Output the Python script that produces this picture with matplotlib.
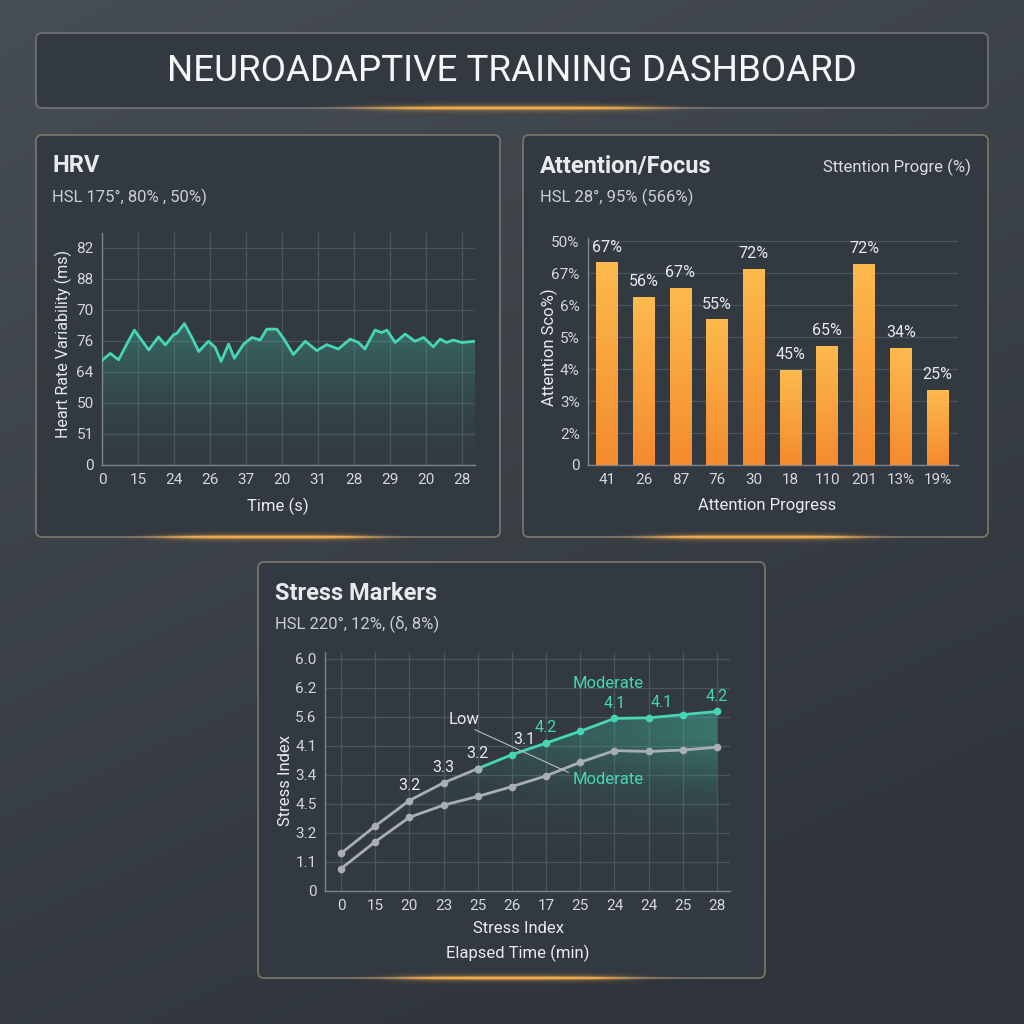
import numpy as np
import matplotlib
matplotlib.use('Agg')
import matplotlib.pyplot as plt
from matplotlib.patches import FancyBboxPatch
from matplotlib.colors import to_rgb

plt.rcParams['font.family'] = ['Roboto', 'DejaVu Sans']

# ---- data ----
# HRV trace (x in tick slots, y in tick slots)
hrv_x = [0, 0.23, 0.46, 0.69, 0.90, 1.11, 1.30, 1.57, 1.76, 1.99, 2.08, 2.29, 2.50, 2.69,
         2.96, 3.15, 3.31, 3.52, 3.68, 3.94, 4.17, 4.40, 4.58, 4.86, 5.06, 5.32, 5.65,
         5.97, 6.25, 6.57, 6.90, 7.13, 7.31, 7.59, 7.78, 7.92, 8.15, 8.43, 8.70, 8.94,
         9.21, 9.40, 9.58, 9.77, 10.0, 10.37]
hrv_y = [3.37, 3.60, 3.39, 3.90, 4.35, 4.01, 3.71, 4.13, 3.87, 4.20, 4.24, 4.56, 4.11, 3.66,
         3.99, 3.79, 3.34, 3.90, 3.44, 3.90, 4.11, 4.03, 4.38, 4.38, 4.06, 3.56, 3.99,
         3.69, 3.88, 3.74, 4.06, 3.95, 3.74, 4.35, 4.27, 4.35, 3.95, 4.22, 3.99, 4.11,
         3.81, 4.06, 3.95, 4.03, 3.95, 3.99]
hrv_xticks = ['0', '15', '24', '26', '37', '20', '31', '28', '29', '20', '28']
hrv_yticks = ['0', '51', '50', '64', '76', '70', '88', '82']

# Attention bars
att_cats = ['41', '26', '87', '76', '30', '18', '110', '201', '13%', '19%']
att_vals = [6.32, 5.24, 5.53, 4.54, 6.13, 2.97, 3.70, 6.27, 3.65, 2.34]
att_labels = ['67%', '56%', '67%', '55%', '72%', '45%', '65%', '72%', '34%', '25%']
att_yticks = ['0', '2%', '3%', '4%', '5%', '6%', '67%', '50%']

# Stress markers
stress_xticks = ['0', '15', '20', '23', '25', '26', '17', '25', '24', '24', '25', '28']
stress_upper = [1.30, 2.24, 3.12, 3.73, 4.22, 4.70, 5.10, 5.51, 5.95, 5.97, 6.08, 6.19]
stress_lower = [0.77, 1.70, 2.54, 2.96, 3.26, 3.60, 3.97, 4.44, 4.84, 4.81, 4.86, 4.96]
stress_yticks = ['0', '1.1', '3.2', '4.5', '3.4', '4.1', '5.6', '6.2', '6.0']
note_idx = [2, 3, 4, 5, 6, 8, 9, 11]
note_txt = ['3.2', '3.3', '3.2', '3.1', '4.2', '4.1', '4.1', '4.2']

TEAL = '#46d6b4'
GRAY = '#a9aeb3'
TXT = '#e8ebee'
TICK = '#d3d7db'
GRID = '#4c545d'

fig = plt.figure(figsize=(10.24, 10.24), dpi=100)

# background axes in pixel coords
bg = fig.add_axes([0, 0, 1, 1], zorder=0)
bg.set_xlim(0, 1024)
bg.set_ylim(1024, 0)
bg.axis('off')
yy, xx = np.mgrid[0:1:256j, 0:1:256j]
top = np.array(to_rgb('#474d54'))
bot = np.array(to_rgb('#2f343b'))
t = np.clip(0.75 * yy + 0.35 * xx, 0, 1)[..., None]
bg.imshow(top * (1 - t) + bot * t, extent=[0, 1024, 1024, 0], aspect='auto', zorder=0)


def panel(x0, y0, x1, y1, edge='#6c7075'):
    p = FancyBboxPatch((x0, y0), x1 - x0, y1 - y0, boxstyle='round,pad=0,rounding_size=6',
                       facecolor='#323941', edgecolor=edge, lw=1.3, zorder=1)
    bg.add_patch(p)


def glow(cx, cy, hw):
    gx = np.linspace(-1, 1, 300)
    gy = np.linspace(-1, 1, 40)
    X, Y = np.meshgrid(gx, gy)
    a = np.exp(-(X * 1.8) ** 4) * (np.exp(-(Y * 9) ** 2) + 0.35 * np.exp(-(Y * 3) ** 2))
    img = np.zeros((40, 300, 4))
    img[..., :3] = to_rgb('#f6ad4c')
    img[..., 3] = np.clip(a, 0, 1)
    bg.imshow(img, extent=[cx - hw, cx + hw, cy + 12, cy - 12], aspect='auto', zorder=3)


panel(36, 33, 988, 108)
panel(36, 135, 500, 537, edge='#77736a')
panel(523, 135, 988, 537, edge='#77736a')
panel(258, 562, 765, 978, edge='#77736a')
glow(512, 108, 260)
glow(268, 537, 190)
glow(755, 537, 190)
glow(512, 978, 210)
bg.set_xlim(0, 1024)
bg.set_ylim(1024, 0)

bg.text(512, 71, 'NEUROADAPTIVE TRAINING DASHBOARD', ha='center', va='center',
        fontsize=26.5, color='#f4f6f8', zorder=5)

# panel titles
bg.text(52, 166, 'HRV', fontsize=17, fontweight='bold', color=TXT, va='center', zorder=5)
bg.text(52, 197, 'HSL 175°, 80% , 50%)', fontsize=12, color='#c9ced3', va='center', zorder=5)
bg.text(540, 166, 'Attention/Focus', fontsize=17, fontweight='bold', color=TXT, va='center', zorder=5)
bg.text(540, 197, 'HSL 28°, 95% (566%)', fontsize=12, color='#c9ced3', va='center', zorder=5)
bg.text(971, 167, 'Sttention Progre (%)', fontsize=12, color='#d9dde1', va='center', ha='right', zorder=5)
bg.text(275, 593, 'Stress Markers', fontsize=17, fontweight='bold', color=TXT, va='center', zorder=5)
bg.text(275, 624, 'HSL 220°, 12%, (δ, 8%)', fontsize=12, color='#c9ced3', va='center', zorder=5)


def make_ax(x0, y0, x1, y1):
    ax = fig.add_axes([x0 / 1024, 1 - y1 / 1024, (x1 - x0) / 1024, (y1 - y0) / 1024], zorder=2)
    ax.set_facecolor('none')
    for s in ['top', 'right']:
        ax.spines[s].set_visible(False)
    for s in ['left', 'bottom']:
        ax.spines[s].set_color('#7d848b')
        ax.spines[s].set_linewidth(1.0)
    ax.tick_params(length=0, colors=TICK, labelsize=11, pad=6)
    return ax


def grad_fill(ax, x, y1, y0, alpha_img, extent, color):
    poly = ax.fill_between(x, y1, y0, facecolor='none', edgecolor='none')
    img = np.zeros(alpha_img.shape + (4,))
    img[..., :3] = to_rgb(color)
    img[..., 3] = alpha_img
    im = ax.imshow(img, extent=extent, origin='lower', aspect='auto', zorder=1)
    im.set_clip_path(poly.get_paths()[0], transform=ax.transData)


# ---- HRV ----
ax1 = make_ax(102, 233, 475, 465)
ny = 200
ramp = np.linspace(0.0, 1.0, ny) ** 1.8
grad_fill(ax1, hrv_x, hrv_y, 0, np.tile((0.02 + 0.42 * ramp)[:, None], (1, 10)),
          [0, 10.37, 0, 4.6], '#3fae98')
ax1.plot(hrv_x, hrv_y, color=TEAL, lw=2.0, zorder=3, solid_capstyle='round')
ax1.set_xticks(range(len(hrv_xticks)))
ax1.set_xticklabels(hrv_xticks)
ax1.set_yticks(range(len(hrv_yticks)))
ax1.set_yticklabels(hrv_yticks)
ax1.grid(True, color=GRID, lw=0.9)
ax1.set_axisbelow(True)
ax1.set_xlim(0, 10.37)
ax1.set_ylim(0, 7.48)
ax1.set_xlabel('Time (s)', color=TXT, fontsize=12)
ax1.set_ylabel('Heart Rate Variability (ms)', color=TXT, fontsize=11.5)
ax1.xaxis.set_label_coords(0.472, -0.142)
ax1.yaxis.set_label_coords(-0.08, 0.52)

# ---- Attention ----
ax2 = make_ax(588, 238, 958, 465)
pos = np.arange(len(att_cats))
w = 0.59
bar_cols = np.linspace(0, 1, 100)[:, None]
c_bot = np.array(to_rgb('#f48b2e'))
c_top = np.array(to_rgb('#fdba4e'))
for i, v in enumerate(att_vals):
    img = c_bot * (1 - bar_cols[..., None]) + c_top * bar_cols[..., None]
    img = np.repeat(img, 4, axis=1)
    ax2.imshow(img, extent=[pos[i] - w / 2, pos[i] + w / 2, 0, v], origin='lower',
               aspect='auto', zorder=3)
    ax2.annotate(att_labels[i], (pos[i], v), xytext=(0, 6), textcoords='offset points',
                 ha='center', va='bottom', color=TXT, fontsize=11.5, zorder=4)
ax2.set_xticks(pos)
ax2.set_xticklabels(att_cats)
ax2.set_yticks(range(len(att_yticks)))
ax2.set_yticklabels(att_yticks)
ax2.grid(True, axis='y', color=GRID, lw=0.9)
ax2.set_axisbelow(True)
ax2.set_xlim(-0.52, 9.56)
ax2.set_ylim(0, 7.1)
ax2.set_xlabel('Attention Progress', color=TXT, fontsize=12)
ax2.set_ylabel('Attention Sco%)', color=TXT, fontsize=12)
ax2.xaxis.set_label_coords(0.484, -0.145)
ax2.yaxis.set_label_coords(-0.08, 0.52)

# ---- Stress ----
ax3 = make_ax(325, 652, 730, 891)
sx = np.arange(len(stress_xticks))
gy, gx = np.mgrid[0:1:120j, 0:1:120j]
alpha = (0.06 + 0.45 * gx ** 1.3) * np.clip(gy * 1.2, 0, 1) ** 2.6
grad_fill(ax3, sx, stress_upper, 0, alpha, [0, 11, 0, 6.3], '#3fae98')
ax3.plot(sx, stress_lower, color=GRAY, lw=2, marker='o', ms=4.5, zorder=3)
ax3.plot(sx[:5], stress_upper[:5], color=GRAY, lw=2, marker='o', ms=4.5, zorder=3)
ax3.plot(sx[4:], stress_upper[4:], color=TEAL, lw=2, marker='o', ms=4.5, zorder=4)
ax3.plot(sx[4:5], stress_upper[4:5], color=GRAY, marker='o', ms=4.5, lw=0, zorder=5)
for k, (i, s) in enumerate(zip(note_idx, note_txt)):
    col = TXT if i < 6 else TEAL
    dx = 9 if i in (5, 9) else 0
    ax3.annotate(s, (sx[i], stress_upper[i]), xytext=(dx, 11), textcoords='offset points',
                 ha='center', va='center', color=col, fontsize=11.5, zorder=6)
ax3.text(7.82, 7.15, 'Moderate', color=TEAL, fontsize=12, ha='center', va='center', zorder=6)
ax3.text(7.82, 3.83, 'Moderate', color=TEAL, fontsize=12, ha='center', va='center', zorder=6)
ax3.text(3.61, 5.90, 'Low', color=TXT, fontsize=12, ha='center', va='center', zorder=6)
ax3.plot([3.92, 6.65], [5.56, 4.09], color='#b7bcc1', lw=0.8, zorder=5)
ax3.set_xticks(sx)
ax3.set_xticklabels(stress_xticks)
ax3.set_yticks(range(len(stress_yticks)))
ax3.set_yticklabels(stress_yticks)
ax3.grid(True, color=GRID, lw=0.9)
ax3.set_axisbelow(True)
ax3.set_xlim(-0.47, 11.38)
ax3.set_ylim(0, 8.24)
ax3.set_xlabel('Stress Index', color=TXT, fontsize=12)
ax3.set_ylabel('Stress Index', color=TXT, fontsize=12)
ax3.xaxis.set_label_coords(0.477, -0.126)
ax3.yaxis.set_label_coords(-0.08, 0.464)
ax3.text(0.477, -0.259, 'Elapsed Time (min)', transform=ax3.transAxes, color=TXT,
         fontsize=12, ha='center', va='center')

fig.savefig('out.png', dpi=100)
